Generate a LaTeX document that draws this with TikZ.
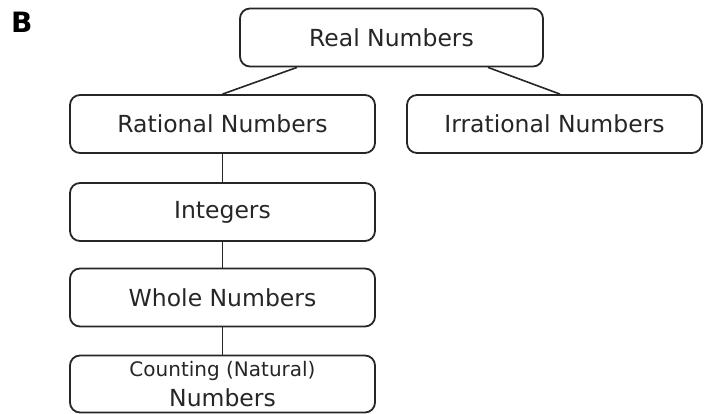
\documentclass[tikz,border=0pt]{standalone}
\usepackage{fontspec}
\setmainfont{DejaVu Sans}
\begin{document}
\begin{tikzpicture}[x=1pt,y=-1pt,
  box/.style={draw=black!85, line width=1.8pt, rounded corners=10pt, inner sep=0pt,
    minimum height=58pt, text=black!85, font=\fontsize{23.5}{27}\selectfont},
  link/.style={draw=black!85, line width=1.6pt}]
\useasboundingbox (0,0) rectangle (705,414);
\node[font=\fontsize{28}{32}\selectfont\bfseries, anchor=north west, inner sep=0pt] (lbl) at (11,12) {B};
\node[box, minimum width=303pt] (real) at (391.5,37.5) {Real Numbers};
\node[box, minimum width=295pt] (irr) at (554.5,124) {Irrational Numbers};
\node[box, minimum width=305pt] (rat) at (222.5,124) {Rational Numbers};
\node[box, minimum width=305pt] (int) at (222.5,212) {Integers};
\node[box, minimum width=305pt] (whole) at (222.5,297.5) {Whole Numbers};
\node[box, minimum width=305pt, minimum height=57pt, align=center] (count) at (222.5,384)
  {{\fontsize{20}{22}\selectfont Counting (Natural)}\\[3pt]Numbers};
\draw[link] ([xshift=-94.5pt]real.south) -- (rat.north);
\draw[link] ([xshift=96.5pt]real.south) -- ([xshift=5.5pt]irr.north);
\draw[link] (rat) -- (int);
\draw[link] (int) -- (whole);
\draw[link] (whole) -- (count);
\end{tikzpicture}
\end{document}
